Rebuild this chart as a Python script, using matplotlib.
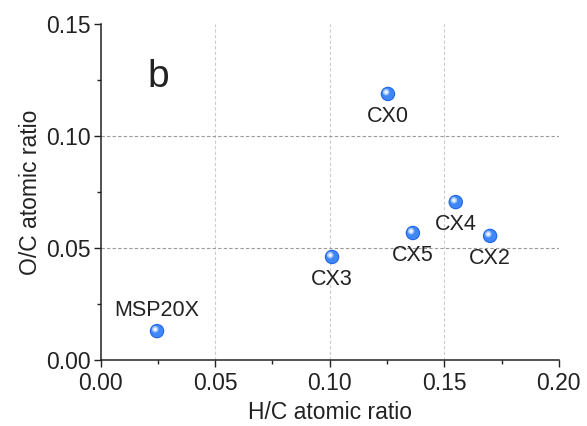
import numpy as np
import matplotlib
matplotlib.use('Agg')
import matplotlib.pyplot as plt
import matplotlib.transforms as mtransforms

plt.rcParams['font.family'] = ['Liberation Sans', 'DejaVu Sans']

# data
names = ['MSP20X', 'CX3', 'CX0', 'CX5', 'CX4', 'CX2']
hc = [0.0246, 0.101, 0.1254, 0.1363, 0.155, 0.170]
oc = [0.0129, 0.046, 0.1188, 0.0567, 0.0705, 0.0554]
label_above = [True, False, False, False, False, False]

fig = plt.figure(figsize=(5.87, 4.26), dpi=100)
ax = fig.add_axes([0.1715, 0.155, 0.7805, 0.7885])

# sphere-like markers: darker rim + base + highlight
ax.scatter(hc, oc, s=108, color='#1f63e6', zorder=3, edgecolors='none')
ax.scatter(hc, oc, s=80, color='#3f86f7', zorder=4, edgecolors='none')
hl = ax.transData + mtransforms.ScaledTranslation(-1.3/72, 1.3/72, fig.dpi_scale_trans)
ax.scatter(hc, oc, s=22, color='#9fc6fc', zorder=5, edgecolors='none', transform=hl)
ax.scatter(hc, oc, s=6, color='#eef6ff', zorder=6, edgecolors='none', transform=hl)

for n, x, y, up in zip(names, hc, oc, label_above):
    if up:
        ax.annotate(n, (x, y), xytext=(0, 7), textcoords='offset points',
                    ha='center', va='bottom', fontsize=15.5, color='#222222')
    else:
        ax.annotate(n, (x, y), xytext=(0, -8.5), textcoords='offset points',
                    ha='center', va='top', fontsize=15.5, color='#222222')

ax.text(0.025, 0.122, 'b', fontsize=28, color='#222222', ha='center', va='baseline')

ax.set_xlim(0, 0.2)
ax.set_ylim(0, 0.15)
ax.set_xticks([0, 0.05, 0.1, 0.15, 0.2])
ax.set_yticks([0, 0.05, 0.1, 0.15])
ax.set_xticks([0.025, 0.075, 0.125, 0.175], minor=True)
ax.set_yticks([0.025, 0.075, 0.125], minor=True)
ax.set_xticklabels(['0.00', '0.05', '0.10', '0.15', '0.20'])
ax.set_yticklabels(['0.00', '0.05', '0.10', '0.15'])
ax.tick_params(which='major', direction='out', length=5, width=1, labelsize=16.5,
               colors='#222222', pad=2)
ax.tick_params(axis='x', which='major', pad=4)
ax.tick_params(which='minor', direction='out', length=3, width=1, colors='#222222')

for s in ['top', 'right']:
    ax.spines[s].set_visible(False)
for s in ['left', 'bottom']:
    ax.spines[s].set_color('#222222')
    ax.spines[s].set_linewidth(1.1)

for v in [0.05, 0.1, 0.15]:
    ax.axvline(v, color='#cccccc', lw=0.8, ls=(0, (3, 2)), zorder=1)
for v in [0.05, 0.1]:
    ax.axhline(v, color='#9a9a9a', lw=0.8, ls=(0, (3, 2)), zorder=1)

ax.set_xlabel('H/C atomic ratio', fontsize=16.5, color='#222222', labelpad=4)
ax.set_ylabel('O/C atomic ratio', fontsize=16.5, color='#222222', labelpad=3)

fig.savefig('out.png', dpi=100)
